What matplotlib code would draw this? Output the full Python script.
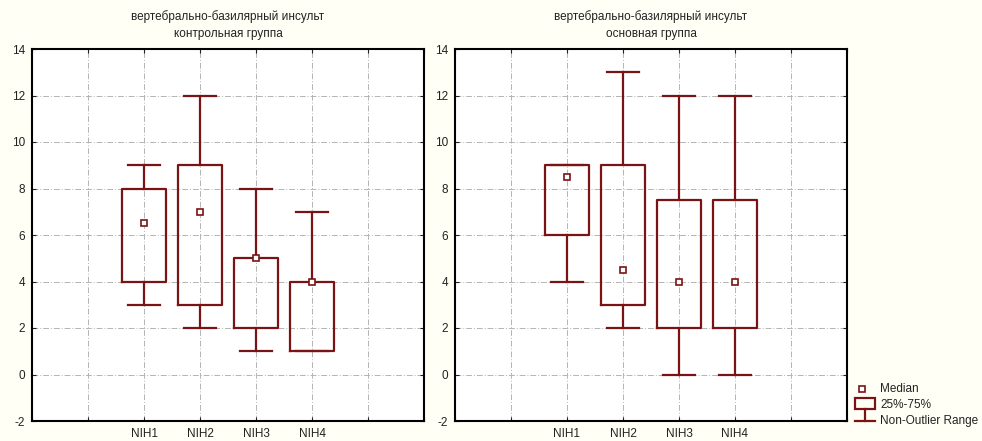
import matplotlib
matplotlib.use("Agg")
import matplotlib.pyplot as plt
from matplotlib.patches import Rectangle

plt.rcParams['font.family'] = ['Liberation Sans', 'DejaVu Sans']
plt.rcParams['axes.unicode_minus'] = False

# данные: медиана, квартили, ненаблюдаемый размах
labels = ['NIH1', 'NIH2', 'NIH3', 'NIH4']
titles = ['вертебрально-базилярный инсульт\nконтрольная группа',
          'вертебрально-базилярный инсульт\nосновная группа']

ctrl_med = [6.5, 7, 5, 4]
ctrl_q1 = [4, 3, 2, 1]
ctrl_q3 = [8, 9, 5, 4]
ctrl_lo = [3, 2, 1, 1]
ctrl_hi = [9, 12, 8, 7]

main_med = [8.5, 4.5, 4, 4]
main_q1 = [6, 3, 2, 2]
main_q3 = [9, 9, 7.5, 7.5]
main_lo = [4, 2, 0, 0]
main_hi = [9, 13, 12, 12]

groups = [(ctrl_med, ctrl_q1, ctrl_q3, ctrl_lo, ctrl_hi),
          (main_med, main_q1, main_q3, main_lo, main_hi)]

col = '#7a1414'
bg = '#fffff5'
txt = '#222222'

fig = plt.figure(figsize=(9.82, 4.41), dpi=100)
fig.patch.set_facecolor(bg)

lefts = [32 / 982, 455 / 982]
for k in range(2):
    ax = fig.add_axes([lefts[k], 20 / 441, 392 / 982, 372 / 441])
    med, q1, q3, lo, hi = groups[k]
    stats = []
    for i in range(len(labels)):
        stats.append(dict(med=med[i], q1=q1[i], q3=q3[i], whislo=lo[i],
                          whishi=hi[i], fliers=[], label=labels[i]))
    pos = list(range(1, len(labels) + 1))
    ax.bxp(stats, positions=pos, widths=0.8, showfliers=False,
           boxprops=dict(color=col, lw=1.6),
           whiskerprops=dict(color=col, lw=1.6),
           capprops=dict(color=col, lw=1.6),
           medianprops=dict(linestyle='none'),
           capwidths=0.58, zorder=3)
    ax.plot(pos, med, 's', ms=5, mfc='white', mec=col, mew=1.2, zorder=4)

    ax.set_xlim(-1, 6)
    ax.set_ylim(-2, 14)
    ax.set_xticks(range(-1, 7))
    ax.set_xticklabels([''] * 2 + labels + [''] * 2)
    ax.set_yticks(range(-2, 15, 2))
    ax.grid(True, color='#b4b4b4', lw=0.7, linestyle=(0, (6, 2, 1, 2)), zorder=0)
    ax.tick_params(direction='in', length=3, top=True, right=True,
                   labelsize=8.5, colors=txt)
    ax.tick_params(axis='x', pad=5)
    ax.tick_params(axis='y', pad=5)
    for s in ax.spines.values():
        s.set_linewidth(1.5)
    ax.set_title(titles[k], fontsize=8.5, pad=9, color=txt, linespacing=1.5)

# легенда
lg = fig.add_axes([850 / 982, 0, 132 / 982, 60 / 441])
lg.set_xlim(0, 132)
lg.set_ylim(60, 0)
lg.axis('off')
lg.plot([12], [8], 's', ms=5, mfc='white', mec=col, mew=1.2)
lg.add_patch(Rectangle((5, 17), 20, 11, fill=False, ec=col, lw=1.6))
lg.plot([15, 15], [28, 40], color=col, lw=1.6)
lg.plot([5, 25], [40, 40], color=col, lw=1.6)
lg.text(30, 8, 'Median', fontsize=8.5, va='center', color=txt)
lg.text(30, 24, '25%-75%', fontsize=8.5, va='center', color=txt)
lg.text(30, 40, 'Non-Outlier Range', fontsize=8.5, va='center', color=txt)

fig.savefig('out.png', dpi=100, facecolor=bg)
